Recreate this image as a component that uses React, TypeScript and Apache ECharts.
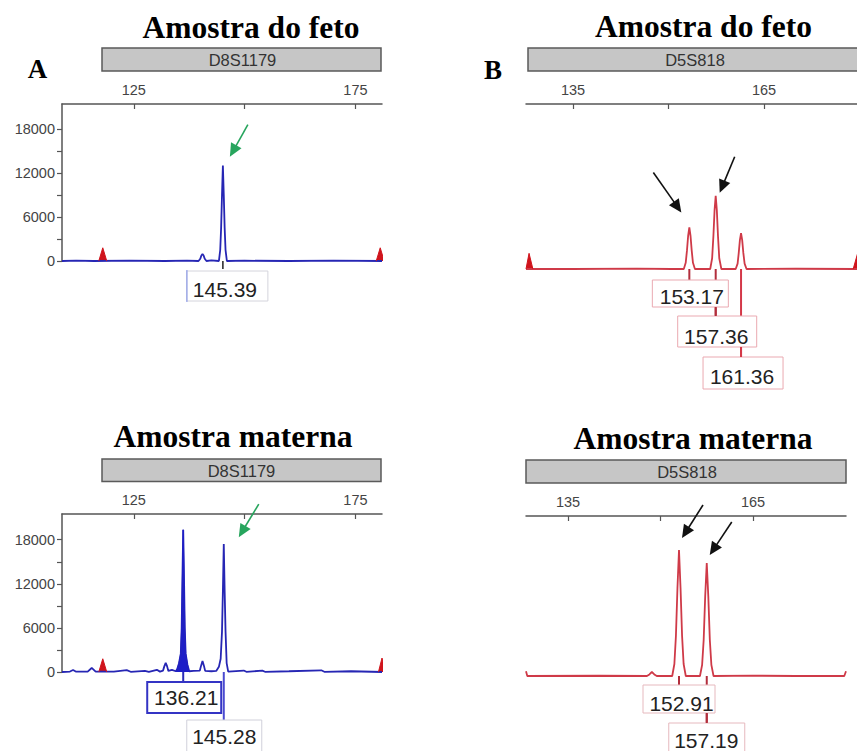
import React, { useEffect, useRef } from "react";
import * as echarts from "echarts";

// ---------- DATA ----------
// Panel titles / labels
const panelTitles = ["Amostra do feto", "Amostra do feto", "Amostra materna", "Amostra materna"];
const panelLetters = ["A", "B"];
const markerNames = ["D8S1179", "D5S818", "D8S1179", "D5S818"];

// Axis ticks
const ticksD8 = [125, 150, 175];
const labelsD8 = [125, 175];
const ticksD5 = [135, 150, 165];
const labelsD5 = [135, 165];
const yTicksD8 = [0, 3000, 6000, 9000, 12000, 15000, 18000];
const yLabelsD8 = [0, 6000, 12000, 18000];

// Fetus D8S1179 trace (bp, RFU)
const traceFetusD8: [number, number][] = [
  [108.8, 0], [112, 60], [116, 0], [124, 40], [132, 0], [137, 60], [139.6, 0], [140.0, 300], [140.25, 750],
  [140.5, 950], [140.75, 750], [141.0, 300], [141.4, 0], [142.5, 80], [144.2, 0], [144.5, 1500], [144.7, 4500],
  [144.9, 9000], [145.1, 13000], [145.3, 9000], [145.5, 4500], [145.7, 1500], [146.0, 0], [150, 40], [160, 0],
  [170, 50], [181, 0],
];
const stdFetusD8Left: [number, number][] = [[117.1, 0], [118.0, 1800], [118.9, 0]];
const stdFetusD8Right: [number, number][] = [[179.7, 0], [180.6, 1800], [181.5, 0]];
const peaksFetusD8 = [145.1];
const heightsFetusD8 = [13000];
const callsFetusD8 = ["145.39"];

// Fetus D5S818 trace
const traceFetusD5: [number, number][] = [
  [127.62, 0], [135, 0], [145, 40], [150.5, 0],
  [152.4, 0], [152.7, 750], [152.9, 2250], [153.08, 4000], [153.27, 5040], [153.46, 4000], [153.64, 2250], [153.84, 750], [154.15, 0],
  [156.55, 0], [156.85, 1300], [157.05, 4000], [157.23, 7100], [157.41, 8880], [157.59, 7100], [157.77, 4000], [157.97, 1300], [158.3, 0],
  [160.55, 0], [160.85, 650], [161.03, 1950], [161.21, 3500], [161.39, 4360], [161.57, 3500], [161.75, 1950], [161.95, 650], [162.25, 0],
  [170, 30], [179.6, 0],
];
const stdFetusD5Left: [number, number][] = [[127.62, 0], [128.1, 1900], [128.7, 0]];
const stdFetusD5Right: [number, number][] = [[179.0, 0], [179.7, 1900], [180.4, 0]];
const peaksFetusD5 = [153.27, 157.41, 161.39];
const heightsFetusD5 = [5040, 8880, 4360];
const callsFetusD5 = ["153.17", "157.36", "161.36"];

// Mother D8S1179 trace
const traceMotherD8: [number, number][] = [
  [108.8, 0], [110.6, 60], [111.3, 280], [112.0, 40], [114.6, 60], [115.5, 550], [116.4, 40], [120.5, 60],
  [123.4, 250], [124.3, 30], [127.5, 150], [128.4, 30], [130.2, 300], [130.9, 50], [131.6, 200], [131.9, 800],
  [132.2, 1250], [132.5, 800], [132.8, 150], [133.6, 300], [134.5, 100], [134.8, 400], [135.2, 1200],
  [135.6, 2500], [135.8, 6000], [135.95, 12000], [136.15, 19350], [136.35, 12000], [136.5, 6000], [136.7, 2500],
  [137.1, 1000], [137.5, 100], [138.5, 150], [139.9, 200], [140.2, 900], [140.5, 1500], [140.8, 900],
  [141.1, 150], [142.5, 100], [143.6, 150], [144.2, 700], [144.6, 1800], [144.9, 5500], [145.1, 11000],
  [145.3, 17400], [145.5, 11000], [145.7, 5500], [145.95, 1200], [146.3, 50], [149.8, 200], [150.4, 30],
  [154, 180], [154.6, 30], [160, 100], [167.3, 230], [168, 30], [174, 100], [181, 0],
];
const filledPeakMotherD8: [number, number][] = [
  [134.5, 0], [134.8, 400], [135.2, 1200], [135.6, 2500], [135.8, 6000], [135.95, 12000], [136.15, 19350],
  [136.35, 12000], [136.5, 6000], [136.7, 2500], [137.1, 1000], [137.5, 0],
];
const stdMotherD8Left: [number, number][] = [[117.1, 0], [118.0, 1800], [118.9, 0]];
const stdMotherD8Right: [number, number][] = [[180.2, 0], [181.0, 1900], [181.8, 0]];
const peaksMotherD8 = [136.15, 145.3];
const heightsMotherD8 = [19350, 17400];
const callsMotherD8 = ["136.21", "145.28"];

// Mother D5S818 trace
const traceMotherD5: [number, number][] = [
  [128.19, 600], [128.4, 0], [140, 30], [147.8, 0], [148.2, 200], [148.6, 500], [149.0, 200], [149.4, 0],
  [151.9, 0], [152.25, 1500], [152.5, 5000], [152.75, 11000], [153.0, 15750], [153.25, 11000], [153.5, 5000], [153.75, 1500], [154.1, 0],
  [156.4, 0], [156.75, 1400], [157.0, 4500], [157.25, 10000], [157.5, 14125], [157.75, 10000], [158.0, 4500], [158.25, 1400], [158.6, 0],
  [165, 40], [172, 0], [179.8, 0], [180.08, 600],
];
const peaksMotherD5 = [153.0, 157.5];
const heightsMotherD5 = [15750, 14125];
const callsMotherD5 = ["152.91", "157.19"];

// ---------- STYLE ----------
const BLUE = "#2626b4";
const RED = "#cf3a48";
const SANS = "'Liberation Sans', Arial, Helvetica, sans-serif";
const SERIF = "'Liberation Serif', 'Times New Roman', serif";

function xAxisCfg(gi: number, min: number, max: number, ticks: number[], labels: number[]) {
  return {
    gridIndex: gi, type: "value", position: "top", min, max,
    axisLine: { show: true, onZero: false, lineStyle: { color: "#555", width: 1.5 } },
    axisTick: { show: true, inside: true, length: 5, customValues: ticks, lineStyle: { color: "#555", width: 1.2 } },
    axisLabel: { show: true, customValues: labels, fontSize: 14.5, color: "#444", margin: 7, fontFamily: SANS },
    splitLine: { show: false },
  };
}
function yAxisCfg(gi: number, max: number, show: boolean) {
  return {
    gridIndex: gi, type: "value", min: 0, max, show,
    axisLine: { show: true, onZero: false, lineStyle: { color: "#555", width: 1.5 } },
    axisTick: { show: true, length: 5, customValues: yTicksD8, lineStyle: { color: "#555", width: 1.2 } },
    axisLabel: {
      show: true, customValues: yLabelsD8, fontSize: 14.5, color: "#444", margin: 7, fontFamily: SANS,
      formatter: (v: number) => String(v),
    },
    splitLine: { show: false },
  };
}
function lineSeries(gi: number, data: [number, number][], color: string, width = 1.8, fill?: string) {
  return {
    type: "line", xAxisIndex: gi, yAxisIndex: gi, data, showSymbol: false, symbol: "none",
    lineStyle: { color, width }, clip: true, z: 3,
    areaStyle: fill ? { color: fill, opacity: 1 } : undefined,
  };
}

export default function App() {
  const ref = useRef<HTMLDivElement>(null);
  useEffect(() => {
    if (!ref.current) return;
    const chart = echarts.init(ref.current, null, { renderer: "svg" });
    chart.setOption({
      animation: false,
      backgroundColor: "#fff",
      grid: [
        { left: 62, top: 104, width: 320, height: 157 },
        { left: 526, top: 104, width: 331, height: 165 },
        { left: 62, top: 514, width: 320, height: 158 },
        { left: 526, top: 516, width: 320, height: 160 },
      ],
      xAxis: [
        xAxisCfg(0, 108.8, 181, ticksD8, labelsD8),
        xAxisCfg(1, 127.62, 179.6, ticksD5, labelsD5),
        xAxisCfg(2, 108.8, 181, ticksD8, labelsD8),
        xAxisCfg(3, 128.19, 180.08, ticksD5, labelsD5),
      ],
      yAxis: [yAxisCfg(0, 21400, true), yAxisCfg(1, 20000, false), yAxisCfg(2, 21500, true), yAxisCfg(3, 20000, false)],
      series: [
        lineSeries(0, traceFetusD8, BLUE), // 0
        lineSeries(0, stdFetusD8Left, "#d0141c", 1, "#d0141c"),
        lineSeries(0, stdFetusD8Right, "#d0141c", 1, "#d0141c"),
        lineSeries(1, traceFetusD5, RED), // 3
        lineSeries(1, stdFetusD5Left, "#d0141c", 1, "#d0141c"),
        lineSeries(1, stdFetusD5Right, "#d0141c", 1, "#d0141c"),
        lineSeries(2, traceMotherD8, BLUE), // 6
        lineSeries(2, filledPeakMotherD8, "#1e1ec8", 1, "#1e1ec8"),
        lineSeries(2, stdMotherD8Left, "#d0141c", 1, "#d0141c"),
        lineSeries(2, stdMotherD8Right, "#d0141c", 1, "#d0141c"),
        lineSeries(3, traceMotherD5, RED), // 10
      ],
    });

    const px = (si: number, x: number, y: number) => chart.convertToPixel({ seriesIndex: si }, [x, y]) as number[];
    const g: any[] = [];
    const text = (t: string, x: number, y: number, size: number, opts: any = {}) =>
      g.push({
        type: "text", x, y, z: 30,
        style: {
          text: t, fill: opts.fill || "#222", fontSize: size, fontFamily: opts.family || SANS,
          fontWeight: opts.weight || "normal", align: "center", verticalAlign: "middle",
        },
      });
    const line = (x1: number, y1: number, x2: number, y2: number, stroke: string, w = 1.5, z = 20) =>
      g.push({ type: "line", z, shape: { x1, y1, x2, y2 }, style: { stroke, lineWidth: w } });
    const rect = (x: number, y: number, w: number, h: number, stroke: string, lw = 1, z = 22) =>
      g.push({ type: "rect", z, shape: { x, y, width: w, height: h }, style: { fill: "#fff", stroke, lineWidth: lw } });
    const arrow = (tx: number, ty: number, hx: number, hy: number, color: string) => {
      const dx = hx - tx, dy = hy - ty;
      const L = Math.sqrt(dx * dx + dy * dy);
      const ux = dx / L, uy = dy / L;
      const hl = 13, hw = 6;
      const bx = hx - ux * hl, by = hy - uy * hl;
      line(tx, ty, bx + ux * 2, by + uy * 2, color, 1.6, 25);
      g.push({
        type: "polygon", z: 25,
        shape: { points: [[hx, hy], [bx - uy * hw, by + ux * hw], [bx + uy * hw, by - ux * hw]] },
        style: { fill: color },
      });
    };

    // Titles & letters
    text(panelTitles[0], 251, 27, 31.5, { family: SERIF, weight: "bold", fill: "#000" });
    text(panelTitles[1], 703.5, 26, 31.5, { family: SERIF, weight: "bold", fill: "#000" });
    text(panelTitles[2], 233, 436, 31.5, { family: SERIF, weight: "bold", fill: "#000" });
    text(panelTitles[3], 693, 438, 31.5, { family: SERIF, weight: "bold", fill: "#000" });
    text(panelLetters[0], 37.5, 69, 27, { family: SERIF, weight: "bold", fill: "#000" });
    text(panelLetters[1], 493, 70, 27, { family: SERIF, weight: "bold", fill: "#000" });

    // Marker bars
    const bars = [
      [102, 48, 279, 23, 242.5, 60],
      [528, 48, 340, 23, 695, 60],
      [102, 459, 279, 22.5, 241.5, 470.5],
      [526, 460, 320, 23, 687, 472],
    ];
    bars.forEach((b, i) => {
      g.push({ type: "rect", z: 15, shape: { x: b[0], y: b[1], width: b[2], height: b[3] }, style: { fill: "#c6c6c6", stroke: "#5a5a5a", lineWidth: 1.5 } });
      text(markerNames[i], b[4], b[5], 16.5, { fill: "#333" });
    });

    // ---- A top annotations
    {
      const [P, B] = px(0, peaksFetusD8[0], 0);
      const ap = px(0, peaksFetusD8[0], heightsFetusD8[0]);
      line(P, B, P, B + 8, "#222", 1.5);
      rect(P - 36, B + 10, 81, 30, "#d4d4dc");
      line(P - 36, B + 9, P - 36, B + 41, "#8e9ce8", 1.2, 23);
      text(callsFetusD8[0], P + 2, B + 28, 21);
      arrow(ap[0] + 25, ap[1] - 41, ap[0] + 7, ap[1] - 9, "#27a55d");
    }
    // ---- B top annotations
    {
      const p = peaksFetusD5.map((s, i) => px(3, s, heightsFetusD5[i]));
      const B = px(3, peaksFetusD5[0], 0)[1];
      const [P1, P2, P3] = p.map((q) => q[0]);
      const dark = "#b22e3c";
      line(P1, B, P1, B + 11, dark, 2);
      line(P2, B, P2, B + 47, dark, 2);
      line(P3, B, P3, B + 88, "#d43848", 2);
      rect(P1 - 37, B + 11, 76, 27, "#eaa9b1");
      rect(P2 - 38, B + 47, 79, 31, "#eaa9b1");
      rect(P3 - 38, B + 88, 80, 32, "#eaa9b1");
      line(P2, B + 38, P2, B + 47, dark, 2, 24);
      line(P3, B + 78, P3, B + 88, "#d43848", 2, 24);
      text(callsFetusD5[0], P1 + 2.5, B + 27.5, 21);
      text(callsFetusD5[1], P2 + 0.5, B + 67.5, 21);
      text(callsFetusD5[2], P3 + 1, B + 107, 21);
      arrow(p[0][0] - 36, p[0][1] - 55, p[0][0] - 8, p[0][1] - 15, "#111");
      arrow(p[1][0] + 19, p[1][1] - 39, p[1][0] + 4, p[1][1] - 3, "#111");
    }
    // ---- A bottom annotations
    {
      const p = peaksMotherD8.map((s, i) => px(6, s, heightsMotherD8[i]));
      const B = px(6, peaksMotherD8[0], 0)[1];
      const [P1, P2] = p.map((q) => q[0]);
      line(P1, B, P1, B + 10, "#2a2ab8", 2);
      line(P2, B, P2, B + 48, "#4a4ad0", 2);
      rect(P2 - 37, B + 48, 75, 34, "#d0d0da");
      rect(P1 - 36, B + 10, 74, 31, "#3434c4", 2, 24);
      text(callsMotherD8[0], P1 + 3, B + 25.5, 21);
      text(callsMotherD8[1], P2 + 0.5, B + 64, 21);
      arrow(p[1][0] + 35, p[1][1] - 40, p[1][0] + 15, p[1][1] - 7, "#27a55d");
    }
    // ---- B bottom annotations
    {
      const p = peaksMotherD5.map((s, i) => px(10, s, heightsMotherD5[i]));
      const B = px(10, peaksMotherD5[0], 0)[1];
      const [P1, P2] = p.map((q) => q[0]);
      const dark = "#b22e3c";
      line(P1, B, P1, B + 9, dark, 2);
      line(P2, B, P2, B + 47, dark, 2);
      rect(P1 - 36, B + 9, 72, 28, "#e6b9be");
      rect(P2 - 38, B + 47, 76, 32, "#e6b9be");
      line(P2, B + 37, P2, B + 47, dark, 2, 24);
      text(callsMotherD5[0], P1 + 2.5, B + 27, 21);
      text(callsMotherD5[1], P2 - 0.5, B + 64, 21);
      arrow(p[0][0] + 24, p[0][1] - 45, p[0][0] + 3, p[0][1] - 12, "#111");
      arrow(p[1][0] + 25, p[1][1] - 41, p[1][0] + 3, p[1][1] - 8, "#111");
    }

    chart.setOption({ graphic: g });
    return () => chart.dispose();
  }, []);
  return <div ref={ref} style={{ position: "absolute", left: 0, top: 0, width: 857, height: 751 }} />;
}
